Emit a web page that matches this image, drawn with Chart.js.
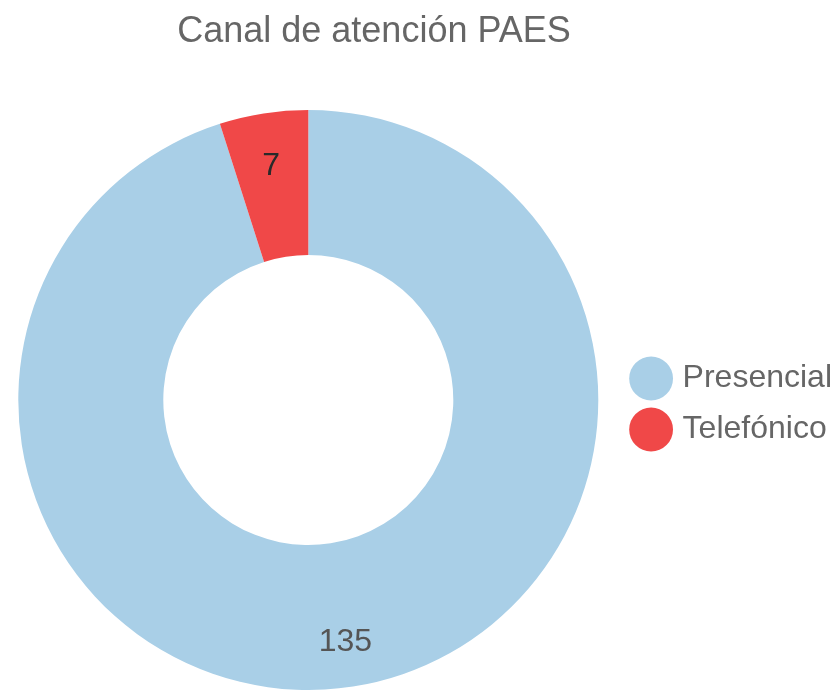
<!DOCTYPE html>
<html>
<head>
<meta charset="utf-8">
<script src="https://cdn.jsdelivr.net/npm/chart.js@4/dist/chart.umd.min.js"></script>
<style>
  html, body { margin: 0; padding: 0; background: #fff; }
  #wrap { width: 835px; height: 690px; }
</style>
</head>
<body>
<div id="wrap"><canvas id="canal"></canvas></div>
<script>
const titleText = 'Canal de atención PAES';
const labels = ['Presencial', 'Telefónico'];
const values = [135, 7];
const colors = ['#a9cfe7', '#f04848'];
const labelColors = ['#555555', '#2a2a2a'];
const FONT = '"Liberation Sans", Arial, sans-serif';

// etiquetas de valor dentro de cada porción
const valueLabels = {
  id: 'valueLabels',
  afterDatasetsDraw(chart) {
    const ctx = chart.ctx;
    const meta = chart.getDatasetMeta(0);
    ctx.save();
    ctx.font = '32px ' + FONT;
    ctx.textAlign = 'center';
    ctx.textBaseline = 'middle';
    meta.data.forEach((arc, i) => {
      const p = arc.getProps(['x', 'y', 'startAngle', 'endAngle', 'innerRadius', 'outerRadius']);
      const mid = (p.startAngle + p.endAngle) / 2;
      const r = p.innerRadius + (p.outerRadius - p.innerRadius) * 0.66;
      ctx.fillStyle = labelColors[i];
      ctx.fillText(values[i], p.x + Math.cos(mid) * r, p.y + Math.sin(mid) * r + 4);
    });
    ctx.restore();
  }
};

// título un poco a la izquierda del centro, como en el original
const titlePlugin = {
  id: 'titlePlugin',
  afterDraw(chart) {
    const ctx = chart.ctx;
    ctx.save();
    ctx.font = '36px ' + FONT;
    ctx.fillStyle = '#666666';
    ctx.textAlign = 'center';
    ctx.textBaseline = 'middle';
    ctx.fillText(titleText, 374, 32);
    ctx.restore();
  }
};

new Chart(document.getElementById('canal'), {
  type: 'doughnut',
  data: {
    labels: labels,
    datasets: [{
      data: values,
      backgroundColor: colors,
      borderWidth: 0
    }]
  },
  options: {
    responsive: true,
    maintainAspectRatio: false,
    animation: false,
    cutout: '50%',
    layout: { padding: { left: 0, right: -7, top: 110, bottom: -8 } },
    plugins: {
      legend: {
        position: 'right',
        labels: {
          usePointStyle: true,
          pointStyle: 'circle',
          boxWidth: 31,
          boxHeight: 31,
          padding: 19,
          color: '#666666',
          font: { family: FONT, size: 32 }
        }
      },
      tooltip: { enabled: false }
    }
  },
  plugins: [valueLabels, titlePlugin]
});
</script>
</body>
</html>
